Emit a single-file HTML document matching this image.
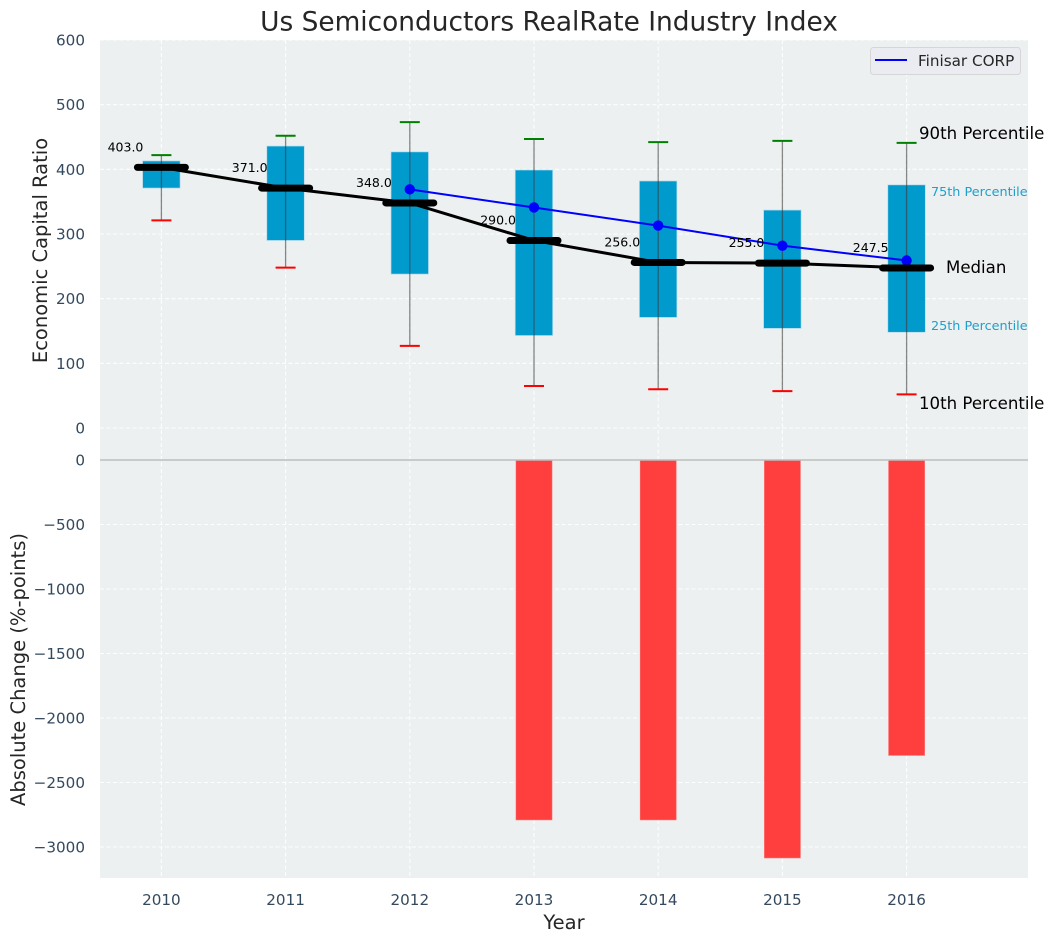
<!DOCTYPE html>
<html lang="en">
<head>
<meta charset="utf-8">
<title>Us Semiconductors RealRate Industry Index</title>
<style>
html,body{margin:0;padding:0;background:#fff;width:1054px;height:942px;overflow:hidden}
svg{display:block;font-family:"DejaVu Sans","Liberation Sans",sans-serif}
</style>
</head>
<body>
<svg id="chart" xmlns="http://www.w3.org/2000/svg" width="1054" height="942" viewBox="0 0 1054 942">
  <rect x="100" y="40" width="928" height="838" fill="#ecf0f1"/>
  <g id="grid"></g>
  <g id="bars"></g>
  <line x1="100" x2="1028" y1="460" y2="460" stroke="#bdbdbd" stroke-width="1.5"/>
  <g id="boxes"></g>
  <g id="lines"></g>
  <g id="ticks" font-size="15.2" fill="#34495e"></g>
  <text x="549" y="30.5" font-size="26.4" fill="#262626" text-anchor="middle">Us Semiconductors RealRate Industry Index</text>
  <text transform="translate(47,250.5) rotate(-90)" font-size="19.5" fill="#262626" text-anchor="middle">Economic Capital Ratio</text>
  <text transform="translate(25,669.5) rotate(-90)" font-size="19.5" fill="#262626" text-anchor="middle">Absolute Change (%-points)</text>
  <text x="564" y="929" font-size="19.5" fill="#262626" text-anchor="middle">Year</text>
  <text x="919" y="139" font-size="16.6" fill="#000">90th Percentile</text>
  <text x="931" y="196" font-size="12.8" fill="#1f9fcb">75th Percentile</text>
  <text x="946" y="273" font-size="16.6" fill="#000">Median</text>
  <text x="931" y="330" font-size="12.8" fill="#1f9fcb">25th Percentile</text>
  <text x="919" y="409" font-size="16.6" fill="#000">10th Percentile</text>
  <g>
    <rect x="870.5" y="47.5" width="150" height="27" rx="3" fill="#eaecf1" stroke="#d6d6d6"/>
    <line x1="875" x2="907" y1="60" y2="60" stroke="#0000ff" stroke-width="2"/>
    <text x="918" y="66" font-size="15.2" fill="#262626">Finisar CORP</text>
  </g>
</svg>
<script>
const years = [2010, 2011, 2012, 2013, 2014, 2015, 2016];
const p90 = [422, 452, 473, 447, 442, 444, 441];
const p75 = [413, 436, 427, 399, 382, 337, 376];
const medians = [403, 371, 348, 290, 256, 255, 247.5];
const p25 = [371, 290, 238, 143, 171, 154, 148];
const p10 = [321, 248, 127, 65, 60, 57, 52];
const finisar = [null, null, 369, 341, 313, 282, 259];
const changes = [0, 0, 0, -2790, -2790, -3085, -2290];
const topTicks = [0, 100, 200, 300, 400, 500, 600];
const bottomTicks = [0, -500, -1000, -1500, -2000, -2500, -3000];

const NS = 'http://www.w3.org/2000/svg';
function x(year) { return 161.4 + (year - 2010) * 124.2; }
function yTop(v) { return 428 - v * 0.64667; }
function yBottom(v) { return 460 - v * 0.129; }
function make(parent, tag, attrs, text) {
  const el = document.createElementNS(NS, tag);
  for (const k in attrs) el.setAttribute(k, attrs[k]);
  if (text !== undefined) el.textContent = text;
  document.getElementById(parent).appendChild(el);
  return el;
}
const gridStyle = { stroke: '#ffffff', 'stroke-width': 1.1, 'stroke-dasharray': '4 2.5', 'stroke-opacity': 0.9 };

years.forEach(function (yr) {
  const gl = make('grid', 'line', Object.assign({ x1: x(yr), x2: x(yr), y1: 40, y2: 878 }, gridStyle));
  
  
  const t = make('ticks', 'text', { x: x(yr), y: 905, 'text-anchor': 'middle' }, String(yr));
  
  
});
topTicks.forEach(function (v) {
  const gl = make('grid', 'line', Object.assign({ x1: 100, x2: 1028, y1: yTop(v), y2: yTop(v) }, gridStyle));
  
  
  const t = make('ticks', 'text', { x: 85, y: yTop(v) + 5.5, 'text-anchor': 'end' }, String(v));
  
  
});
bottomTicks.forEach(function (v) {
  const gl = make('grid', 'line', Object.assign({ x1: 100, x2: 1028, y1: yBottom(v), y2: yBottom(v) }, gridStyle));
  
  
  const label = v < 0 ? '\u2212' + Math.abs(v) : String(v);
  const t = make('ticks', 'text', { x: 85, y: yBottom(v) + 5.5, 'text-anchor': 'end' }, label);
  
  
});

years.forEach(function (yr, i) {
  if (changes[i] !== 0) {
    const b = make('bars', 'rect', {
      x: x(yr) - 18, y: yBottom(0), width: 36, height: yBottom(changes[i]) - yBottom(0),
      fill: '#ff3e3e', stroke: '#ff6a6a', 'stroke-width': 0.6
    });
    
    
  }
  const box = make('boxes', 'rect', {
    x: x(yr) - 18.8, y: yTop(p75[i]), width: 37.5, height: yTop(p25[i]) - yTop(p75[i]),
    fill: '#009acd', stroke: '#b5dcec', 'stroke-width': 0.7
  });
  
  
  const whisk = make('boxes', 'line', {
    x1: x(yr), x2: x(yr), y1: yTop(p90[i]), y2: yTop(p10[i]),
    stroke: '#3a3a3a', 'stroke-opacity': 0.6, 'stroke-width': 1.3
  });
  
  
  const capHi = make('boxes', 'line', {
    x1: x(yr) - 10, x2: x(yr) + 10, y1: yTop(p90[i]), y2: yTop(p90[i]),
    stroke: '#008000', 'stroke-width': 2
  });
  
  
  const capLo = make('boxes', 'line', {
    x1: x(yr) - 10, x2: x(yr) + 10, y1: yTop(p10[i]), y2: yTop(p10[i]),
    stroke: '#ff0000', 'stroke-width': 2
  });
  
  
});

const medianPts = years.map(function (yr, i) { return x(yr) + ',' + yTop(medians[i]); }).join(' ');
const medianLine = make('lines', 'polyline', { points: medianPts, fill: 'none', stroke: '#000', 'stroke-width': 3 });



const blueIdx = years.map(function (yr, i) { return i; }).filter(function (i) { return finisar[i] !== null; });
const bluePts = blueIdx.map(function (i) { return x(years[i]) + ',' + yTop(finisar[i]); }).join(' ');
const blueLine = make('lines', 'polyline', { points: bluePts, fill: 'none', stroke: '#0000ff', 'stroke-width': 2 });


blueIdx.forEach(function (i) {
  const p = make('lines', 'circle', { cx: x(years[i]), cy: yTop(finisar[i]), r: 5.2, fill: '#0000ff' });
  
  
});

years.forEach(function (yr, i) {
  const m = make('lines', 'line', {
    x1: x(yr) - 24, x2: x(yr) + 24, y1: yTop(medians[i]), y2: yTop(medians[i]),
    stroke: '#000', 'stroke-width': 7, 'stroke-linecap': 'round'
  });
  
  
  const lab = make('lines', 'text', {
    x: x(yr) - 18, y: yTop(medians[i]) - 16, 'text-anchor': 'end', 'font-size': 12.5, fill: '#000'
  }, medians[i].toFixed(1));
  
  
});
</script>
</body>
</html>
